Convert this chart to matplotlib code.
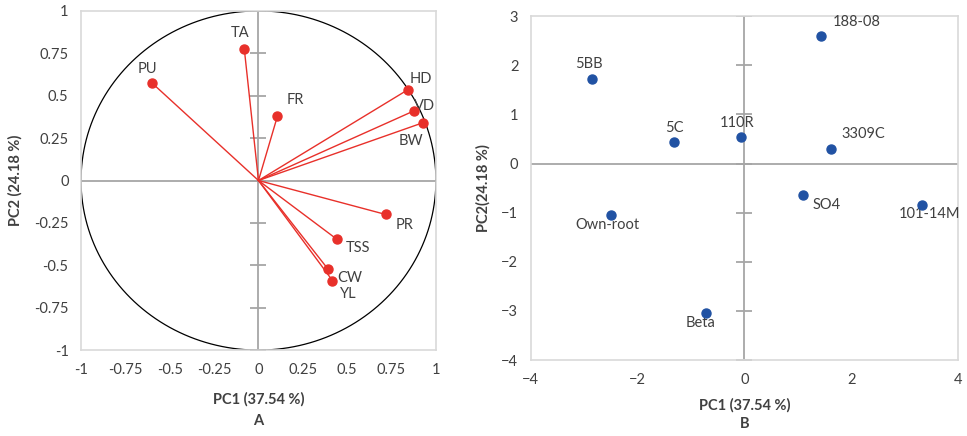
import matplotlib
matplotlib.use("Agg")
import matplotlib.pyplot as plt
import numpy as np

plt.rcParams['font.family'] = ['Lato', 'DejaVu Sans']

# loadings (panel A)
var_names = ['TA', 'PU', 'FR', 'HD', 'VD', 'BW', 'PR', 'TSS', 'CW', 'YL']
var_pc1 = [-0.08, -0.60, 0.107, 0.84, 0.875, 0.925, 0.716, 0.44, 0.39, 0.417]
var_pc2 = [0.776, 0.575, 0.38, 0.534, 0.41, 0.34, -0.20, -0.345, -0.52, -0.59]

# scores (panel B)
roots = ['188-08', '5BB', '5C', '110R', '3309C', 'SO4', '101-14M', 'Own-root', 'Beta']
root_pc1 = [1.43, -2.86, -1.31, -0.07, 1.63, 1.09, 3.33, -2.50, -0.72]
root_pc2 = [2.59, 1.72, 0.44, 0.55, 0.30, -0.64, -0.84, -1.05, -3.05]

# label offsets in pixels
var_off = [(-4, 16), (-5, 14), (18, 16), (13, 11), (11, 5), (-12, -18),
           (19, -11), (21, -9), (22, -9), (16, -13)]
root_off = [(36, 14), (-3, 15), (0, 14), (-4, 14), (32, 15), (24, -10),
            (7, -9), (-4, -10), (-5, -10)]

red = '#e8302a'
blue = '#2152a3'
frame = '#d9d9d9'
axgrey = '#a6a6a6'
txt = '#404040'

fig = plt.figure(figsize=(9.67, 4.36), dpi=100)
ax1 = fig.add_axes([0.0838, 0.197, 0.367, 0.778])
ax2 = fig.add_axes([0.549, 0.174, 0.4416, 0.789])

def style(ax):
    for s in ax.spines.values():
        s.set_color(frame)
        s.set_linewidth(1.2)
    ax.tick_params(length=0, labelsize=10.5, colors=txt, pad=9)

# --- panel A
style(ax1)
ax1.set_xlim(-1, 1)
ax1.set_ylim(-1, 1)
ax1.axhline(0, color=axgrey, lw=1.3, zorder=1)
ax1.axvline(0, color=axgrey, lw=1.3, zorder=1)
yt = np.arange(-1, 1.01, 0.25)
ax1.plot(np.zeros(len(yt)), yt, ls='none', marker='_', ms=11, mew=1.3, color=axgrey, zorder=1)
t = np.linspace(0, 2 * np.pi, 400)
ax1.plot(np.cos(t), np.sin(t), color='black', lw=0.9, zorder=2)
for n, x, y, (dx, dy) in zip(var_names, var_pc1, var_pc2, var_off):
    ax1.plot([0, x], [0, y], color=red, lw=1.0, zorder=3)
    ax1.annotate(n, (x, y), xytext=(dx, dy), textcoords='offset pixels',
                 ha='center', va='center', fontsize=10.5, color=txt)
ax1.plot(var_pc1, var_pc2, 'o', color=red, ms=6.5, zorder=4)
ax1.set_xticks(yt)
ax1.set_yticks(yt)
ax1.set_xticklabels(['-1', '-0.75', '-0.5', '-0.25', '0', '0.25', '0.5', '0.75', '1'])
ax1.set_yticklabels(['-1', '-0.75', '-0.5', '-0.25', '0', '0.25', '0.5', '0.75', '1'])
ax1.set_xlabel('PC1 (37.54 %)\nA', fontsize=10.5, fontweight='bold', color=txt, labelpad=11, linespacing=1.7)
ax1.set_ylabel('PC2 (24.18 %)', fontsize=10.5, fontweight='bold', color=txt, labelpad=8)

# --- panel B
style(ax2)
ax2.set_xlim(-4, 4)
ax2.set_ylim(-4, 3)
ax2.axhline(0, color=axgrey, lw=1.3, zorder=1)
ax2.axvline(0, color=axgrey, lw=1.3, zorder=1)
yt2 = np.arange(-4, 3.01, 1)
ax2.plot(np.zeros(len(yt2)), yt2, ls='none', marker='_', ms=11, mew=1.3, color=axgrey, zorder=1)
ax2.plot(root_pc1, root_pc2, 'o', color=blue, ms=6.5, zorder=4)
for n, x, y, (dx, dy) in zip(roots, root_pc1, root_pc2, root_off):
    ax2.annotate(n, (x, y), xytext=(dx, dy), textcoords='offset pixels',
                 ha='center', va='center', fontsize=10.5, color=txt)
ax2.set_xticks([-4, -2, 0, 2, 4])
ax2.set_yticks(yt2)
ax2.set_xlabel('PC1 (37.54 %)\nB', fontsize=10.5, fontweight='bold', color=txt, labelpad=8, linespacing=1.45)
ax2.set_ylabel('PC2(24.18 %)', fontsize=10.5, fontweight='bold', color=txt, labelpad=8)

fig.savefig('out.png', dpi=100)
